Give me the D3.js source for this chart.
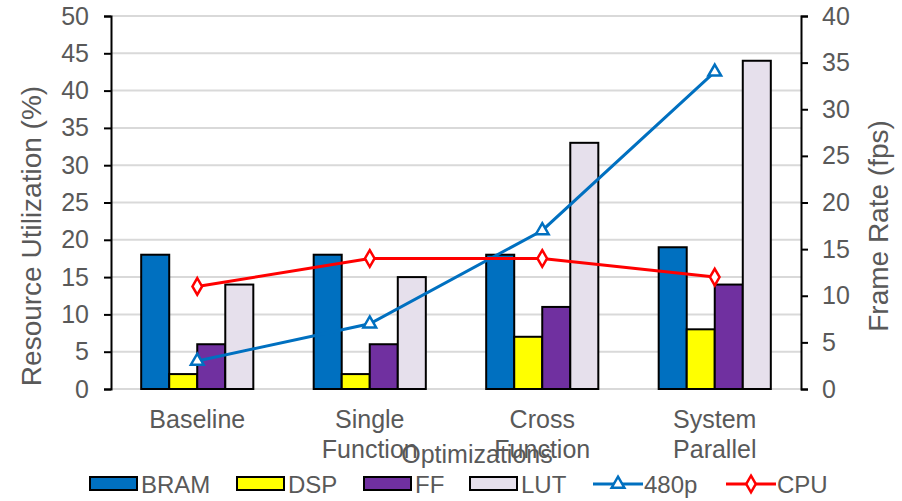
<!DOCTYPE html>
<html><head><meta charset="utf-8">
<script src="https://cdn.jsdelivr.net/npm/d3@7"></script>
<style>body{margin:0;background:#fff}svg{display:block}text{font-family:"Liberation Sans",Arial,sans-serif;fill:#595959}</style>
</head><body><svg id="c" width="902" height="501"></svg>
<script>
const categories = [["Baseline"], ["Single", "Function"], ["Cross", "Function"], ["System", "Parallel"]];
const seriesNames = ["BRAM", "DSP", "FF", "LUT"];
const BRAM = [18, 18, 18, 19];
const DSP = [2, 2, 7, 8];
const FF = [6, 6, 11, 14];
const LUT = [14, 15, 33, 44];
const fps480p = [3, 7, 17, 34];
const CPU = [11, 14, 14, 12];
const leftTicks = [0, 5, 10, 15, 20, 25, 30, 35, 40, 45, 50];
const rightTicks = [0, 5, 10, 15, 20, 25, 30, 35, 40];

const barColors = ["#0070C0", "#FFFF00", "#7030A0", "#E6E0EC"];
const barData = [BRAM, DSP, FF, LUT];

const svg = d3.select("#c");
const L = 111, R = 801, T = 16, B = 389;
const x0 = d3.scaleBand().domain(d3.range(categories.length)).range([L, R]).paddingInner(0.35).paddingOuter(0.175);
const x1 = d3.scaleBand().domain(d3.range(seriesNames.length)).range([0, x0.bandwidth()]);
const yL = d3.scaleLinear().domain([0, 50]).range([B, T]);
const yR = d3.scaleLinear().domain([0, 40]).range([B, T]);
const cx = i => x0(i) + x0.bandwidth() / 2;

// gridlines
svg.append("g").selectAll("line").data(leftTicks.slice(1)).join("line")
  .attr("x1", L).attr("x2", R).attr("y1", d => yL(d)).attr("y2", d => yL(d))
  .attr("stroke", "#d9d9d9").attr("stroke-width", 2);
svg.append("line").attr("x1", L).attr("x2", R).attr("y1", B).attr("y2", B).attr("stroke", "#d9d9d9").attr("stroke-width", 2);

// bars
const g = svg.append("g");
barData.forEach((arr, s) => {
  g.append("g").selectAll("rect").data(arr).join("rect")
    .attr("x", (d, i) => x0(i) + x1(s))
    .attr("y", d => yL(d))
    .attr("width", x1.bandwidth())
    .attr("height", d => yL(0) - yL(d))
    .attr("fill", barColors[s]).attr("stroke", "#000").attr("stroke-width", 2);
});

// axes
const axL = d3.axisLeft(yL).tickValues(leftTicks).tickSize(7).tickPadding(15);
const gL = svg.append("g").attr("transform", `translate(${L},0)`).call(axL);
const axR = d3.axisRight(yR).tickValues(rightTicks).tickSize(7).tickPadding(14);
const gR = svg.append("g").attr("transform", `translate(${R},0)`).call(axR);
[gL, gR].forEach(a => {
  a.select(".domain").attr("stroke", "#000").attr("stroke-width", 2);
  a.selectAll(".tick line").attr("stroke", "#000").attr("stroke-width", 2);
  a.selectAll(".tick text").attr("font-size", 25).attr("fill", "#595959").style("font-family", '"Liberation Sans",Arial,sans-serif');
});

// lines
const lineGen = arr => d3.line().x((d, i) => cx(i)).y(d => yR(d))(arr);
svg.append("path").attr("d", lineGen(fps480p)).attr("fill", "none").attr("stroke", "#0070C0").attr("stroke-width", 3);
svg.append("path").attr("d", lineGen(CPU)).attr("fill", "none").attr("stroke", "#FF0000").attr("stroke-width", 3);
const tri = d3.symbol().type(d3.symbolTriangle).size(70);
const dia = d3.symbol().type(d3.symbolDiamond).size(80);
svg.append("g").selectAll("path").data(fps480p).join("path")
  .attr("d", tri).attr("transform", (d, i) => `translate(${cx(i)},${yR(d)})`)
  .attr("fill", "#fff").attr("stroke", "#0070C0").attr("stroke-width", 2.5);
svg.append("g").selectAll("path").data(CPU).join("path")
  .attr("d", dia).attr("transform", (d, i) => `translate(${cx(i)},${yR(d)})`)
  .attr("fill", "#fff").attr("stroke", "#FF0000").attr("stroke-width", 2.5);

// category labels
categories.forEach((lines, i) => {
  lines.forEach((t, j) => {
    svg.append("text").attr("x", cx(i)).attr("y", 428 + j * 30).attr("text-anchor", "middle").attr("font-size", 25).text(t);
  });
});
// axis titles
svg.append("text").attr("x", 477).attr("y", 463).attr("text-anchor", "middle").attr("font-size", 25).text("Optimizations");
svg.append("text").attr("transform", "translate(41,236) rotate(-90)").attr("text-anchor", "middle").attr("font-size", 28).text("Resource Utilization (%)");
svg.append("text").attr("transform", "translate(888,226) rotate(-90)").attr("text-anchor", "middle").attr("font-size", 28).text("Frame Rate (fps)");

// legend
const lg = svg.append("g");
const legX = [90, 237, 364, 470];
seriesNames.forEach((n, s) => {
  lg.append("rect").attr("x", legX[s]).attr("y", 477).attr("width", 47).attr("height", 13)
    .attr("fill", barColors[s]).attr("stroke", "#000").attr("stroke-width", 2);
  lg.append("text").attr("x", legX[s] + 51).attr("y", 493).attr("font-size", 24).text(n);
});
const lineLeg = [{n: "480p", c: "#0070C0", x: 593, m: tri}, {n: "CPU", c: "#FF0000", x: 726, m: dia}];
lineLeg.forEach(o => {
  lg.append("line").attr("x1", o.x).attr("x2", o.x + 50).attr("y1", 484).attr("y2", 484).attr("stroke", o.c).attr("stroke-width", 3);
  lg.append("path").attr("d", o.m).attr("transform", `translate(${o.x + 25},484)`).attr("fill", "#fff").attr("stroke", o.c).attr("stroke-width", 2.5);
  lg.append("text").attr("x", o.x + 51).attr("y", 493).attr("font-size", 24).text(o.n);
});
</script></body></html>
